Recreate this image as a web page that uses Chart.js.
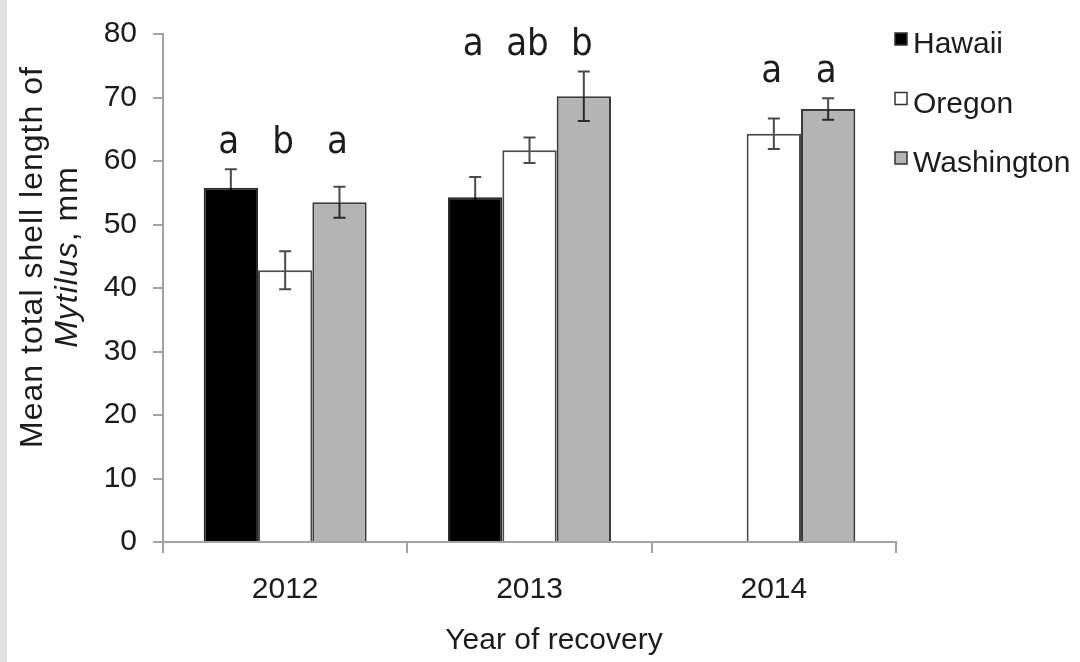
<html>
<head>
    <title>Mytilus shell length</title>
    <script src="https://cdn.jsdelivr.net/npm/chart.js@4"></script>
    <style>
        body { margin: 0; background: linear-gradient(to right, #e2e2e2 0 7px, #fff 7px); }
        #wrap { width: 1080px; height: 662px; }
    </style>
</head>
<body>
    <div id="wrap"><canvas id="chart"></canvas></div>
<script>
    // categories and values
    const years = ['2012', '2013', '2014'];
    const hawaii = [55.8, 54.3, null];
    const oregon = [42.8, 61.7, 64.3];
    const washington = [53.5, 70.2, 68.2];
    // standard error of each bar
    const hawaiiErr = [2.9, 3.2, null];
    const oregonErr = [3.0, 2.0, 2.4];
    const washingtonErr = [2.45, 3.9, 1.7];
    // significance letters above the bars
    const hawaiiLetters = ['a', 'a', null];
    const oregonLetters = ['b', 'ab', 'a'];
    const washingtonLetters = ['a', 'b', 'a'];
    const yTicks = [0, 10, 20, 30, 40, 50, 60, 70, 80];

    const FONT = "'Liberation Sans', Arial, sans-serif";
    const TEXT = '#1c1c1c';
    const AXIS = '#a3a3a3';

    const extras = {
        id: 'extras',
        afterDatasetsDraw(chart) {
            const ctx = chart.ctx;
            const y = chart.scales.y;
            const sets = chart.data.datasets;
            ctx.save();
            ctx.lineWidth = 2;
            // error bars
            sets.forEach((ds, i) => {
                const meta = chart.getDatasetMeta(i);
                meta.data.forEach((bar, j) => {
                    const v = ds.data[j];
                    const e = ds.err[j];
                    if (v == null || e == null) return;
                    const top = y.getPixelForValue(v + e);
                    const bot = y.getPixelForValue(v - e);
                    const cap = 6;
                    ctx.strokeStyle = '#4a4a4a';
                    ctx.beginPath();
                    ctx.moveTo(bar.x, bar.y); ctx.lineTo(bar.x, top);
                    ctx.moveTo(bar.x - cap, top); ctx.lineTo(bar.x + cap, top);
                    ctx.stroke();
                    ctx.strokeStyle = ds.errBelowColor;
                    ctx.beginPath();
                    ctx.moveTo(bar.x, bar.y); ctx.lineTo(bar.x, bot);
                    ctx.moveTo(bar.x - cap, bot); ctx.lineTo(bar.x + cap, bot);
                    ctx.stroke();
                });
            });
            // letters: sit a little above the highest error bar of each year
            ctx.fillStyle = TEXT;
            ctx.font = "38px 'DejaVu Sans Condensed', 'DejaVu Sans', sans-serif";
            ctx.textAlign = 'center';
            ctx.textBaseline = 'alphabetic';
            years.forEach((yr, j) => {
                let hi = 0;
                sets.forEach(ds => {
                    if (ds.data[j] != null) hi = Math.max(hi, ds.data[j] + ds.err[j]);
                });
                const base = y.getPixelForValue(hi + 2.6);
                sets.forEach((ds, i) => {
                    const t = ds.letters[j];
                    if (!t) return;
                    const bar = chart.getDatasetMeta(i).data[j];
                    ctx.fillText(t, bar.x - 2, base);
                });
            });
            ctx.restore();
        },
        afterDraw(chart) {
            const ctx = chart.ctx;
            ctx.save();
            ctx.fillStyle = TEXT;

            // legend
            ctx.font = '30px ' + FONT;
            ctx.textBaseline = 'middle';
            ctx.textAlign = 'left';
            chart.data.datasets.forEach((ds, i) => {
                const cy = 45 + i * 59.5;
                ctx.fillStyle = ds.backgroundColor;
                ctx.fillRect(895, cy - 12, 12, 12);
                ctx.strokeStyle = '#333';
                ctx.lineWidth = 1.5;
                ctx.strokeRect(895, cy - 12, 12, 12);
                ctx.fillStyle = TEXT;
                ctx.fillText(ds.label, 913, cy);
            });

            // x axis title
            ctx.textAlign = 'center';
            ctx.textBaseline = 'alphabetic';
            ctx.fillText('Year of recovery', 554, 649);

            // y axis title, two lines, genus in italics
            const cy = 257;
            ctx.translate(0, cy);
            ctx.rotate(-Math.PI / 2);
            ctx.letterSpacing = '1px';
            ctx.font = '32px ' + FONT;
            ctx.fillText('Mean total shell length of', 0, 42);
            const italic = 'italic 32px ' + FONT;
            const normal = '32px ' + FONT;
            ctx.font = italic;
            const w1 = ctx.measureText('Mytilus').width;
            ctx.font = normal;
            const w2 = ctx.measureText(', mm').width;
            const start = -(w1 + w2) / 2;
            ctx.textAlign = 'left';
            ctx.font = italic;
            ctx.fillText('Mytilus', start, 77);
            ctx.font = normal;
            ctx.fillText(', mm', start + w1, 77);
            ctx.restore();
        }
    };

    new Chart(document.getElementById('chart'), {
        type: 'bar',
        data: {
            labels: years,
            datasets: [
                {
                    label: 'Hawaii',
                    data: hawaii,
                    err: hawaiiErr,
                    letters: hawaiiLetters,
                    backgroundColor: '#000000',
                    borderColor: '#2a2a2a',
                    errBelowColor: '#000000'
                },
                {
                    label: 'Oregon',
                    data: oregon,
                    err: oregonErr,
                    letters: oregonLetters,
                    backgroundColor: '#ffffff',
                    borderColor: '#4a4a4a',
                    errBelowColor: '#4a4a4a'
                },
                {
                    label: 'Washington',
                    data: washington,
                    err: washingtonErr,
                    letters: washingtonLetters,
                    backgroundColor: '#b4b4b4',
                    borderColor: '#3a3a3a',
                    errBelowColor: '#2a2a2a'
                }
            ]
        },
        options: {
            responsive: true,
            maintainAspectRatio: false,
            animation: false,
            datasets: {
                bar: { categoryPercentage: 0.667, barPercentage: 1.0, borderWidth: 2 }
            },
            layout: { padding: { top: 23, right: 184, left: 0, bottom: 0 } },
            plugins: {
                legend: { display: false },
                tooltip: { enabled: false }
            },
            scales: {
                x: {
                    afterFit(scale) { scale.height = 120; },
                    grid: { drawOnChartArea: false, drawTicks: true, tickLength: 11, color: AXIS, lineWidth: 2, offset: true },
                    border: { color: AXIS, width: 2 },
                    ticks: { color: TEXT, padding: 19, font: { family: FONT, size: 30 } }
                },
                y: {
                    min: 0,
                    max: 80,
                    afterFit(scale) { scale.width = 163; },
                    afterBuildTicks(scale) { scale.ticks = yTicks.map(v => ({ value: v })); },
                    grid: { drawOnChartArea: false, drawTicks: true, tickLength: 10, color: AXIS, lineWidth: 2 },
                    border: { color: AXIS, width: 2 },
                    ticks: { color: TEXT, padding: 16, font: { family: FONT, size: 30 } }
                }
            }
        },
        plugins: [extras]
    });
</script>
</body>
</html>
